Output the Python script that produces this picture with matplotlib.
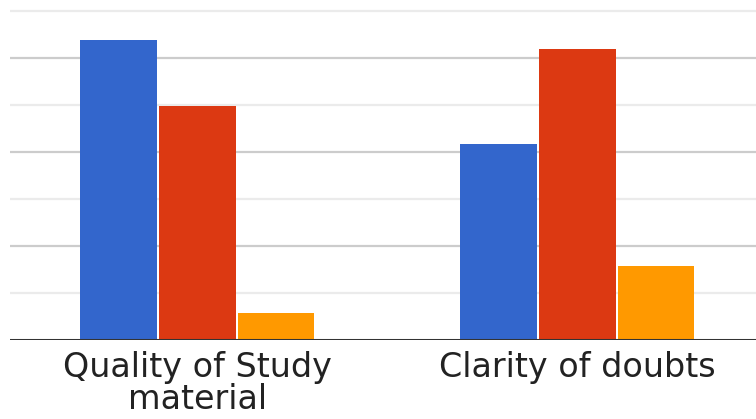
import matplotlib
matplotlib.use("Agg")
import matplotlib.pyplot as plt
import numpy as np

categories = ["Quality of Study\nmaterial", "Clarity of doubts"]
series_names = ["Series 1", "Series 2", "Series 3"]
series_values = [
    [6.38, 4.17],
    [4.98, 6.19],
    [0.57, 1.57],
]
colors = ["#3366CC", "#DC3912", "#FF9900"]

W, H = 756, 419
fig = plt.figure(figsize=(W / 100, H / 100), dpi=100)
ax = fig.add_axes([10 / W, (H - 340) / H, 1 - 10 / W, 340 / H])

x = np.arange(len(categories))
bar_w = 0.202
step = 0.207
for i, (vals, c) in enumerate(zip(series_values, colors)):
    ax.bar(x + (i - 1) * step, vals, width=bar_w, color=c, zorder=3, linewidth=0)

ax.set_xlim(-0.493, 1.470)
ax.set_ylim(0, 340 / 47.0)

for v in range(1, 8):
    col = "#cccccc" if v % 2 == 0 else "#ebebeb"
    ax.axhline(v, color=col, linewidth=1.6, zorder=1)
ax.axhline(0, color="#333333", linewidth=2.2, zorder=4)

for s in ax.spines.values():
    s.set_visible(False)
ax.set_yticks([])
ax.set_xticks(x)
ax.set_xticklabels(categories, fontsize=24, family="DejaVu Sans", color="#222222")
for t in ax.get_xticklabels():
    t.set_linespacing(0.95)
ax.tick_params(axis="x", length=0, pad=8)

fig.savefig("out.png", dpi=100)
